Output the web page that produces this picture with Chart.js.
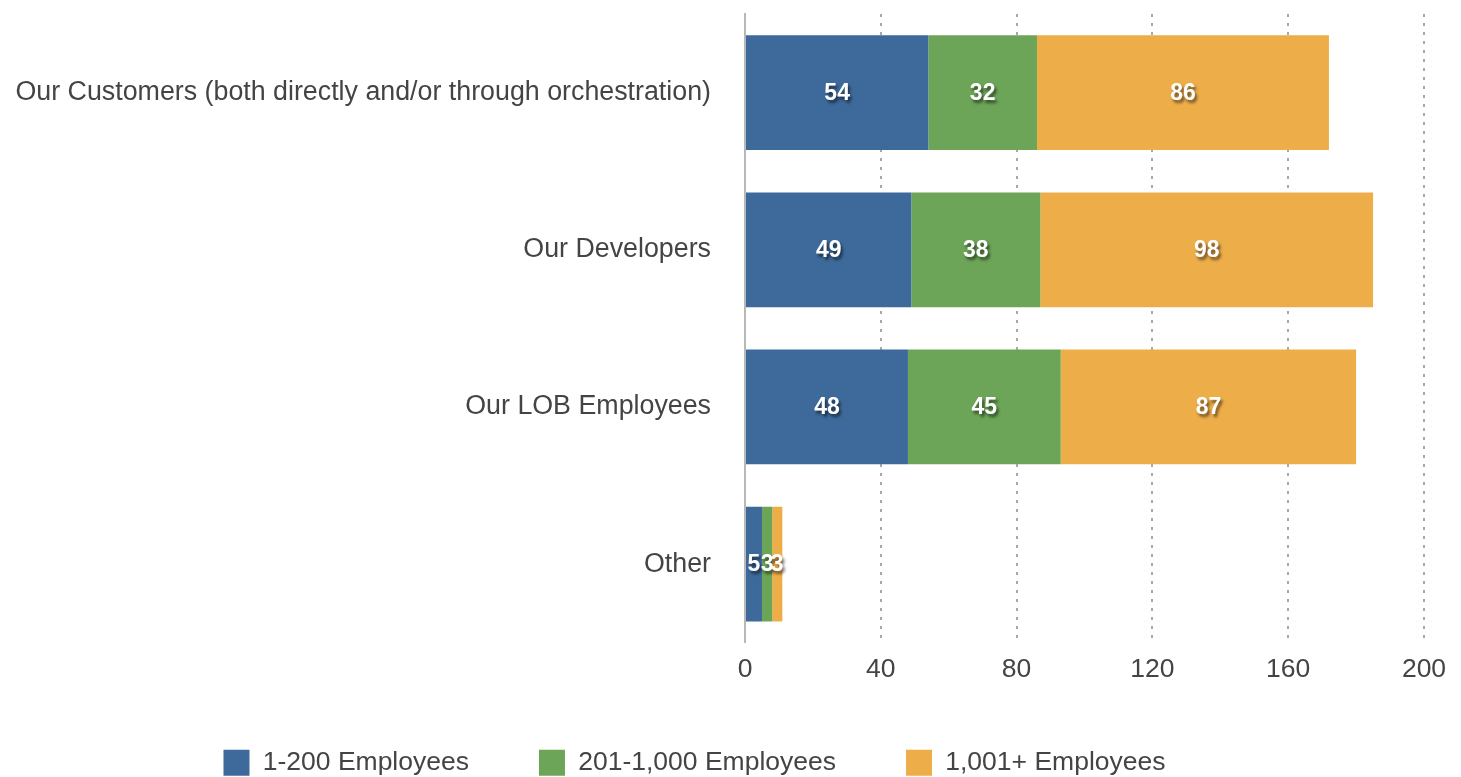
<!DOCTYPE html>
<html>
<head>
<meta charset="utf-8">
<title>Stacked bars by company size</title>
<script src="https://cdn.jsdelivr.net/npm/chart.js@4"></script>
<style>
    html, body { margin: 0; padding: 0; background: #ffffff; }
    #wrap { width: 1461px; height: 777px; position: relative; }
</style>
</head>
<body>
<div id="wrap"><canvas id="size-chart"></canvas></div>
<script>
// Categories and series
const categories = [
    'Our Customers (both directly and/or through orchestration)',
    'Our Developers',
    'Our LOB Employees',
    'Other'
];
const smallCompanies = [54, 49, 48, 5];
const midCompanies = [32, 38, 45, 3];
const largeCompanies = [86, 98, 87, 3];
const xTicks = [0, 40, 80, 120, 160, 200];

const FONT = '"Liberation Sans", Arial, Helvetica, sans-serif';
const TEXT_COLOR = '#444444';

/**
 * Value labels in the middle of each bar segment, white with a soft shadow
 */
const segmentLabels = {
    id: 'segmentLabels',
    afterDatasetsDraw(chart) {
        const ctx = chart.ctx;
        ctx.save();
        ctx.font = 'bold 23px ' + FONT;
        ctx.textAlign = 'center';
        ctx.textBaseline = 'middle';
        ctx.fillStyle = '#ffffff';
        ctx.shadowColor = 'rgba(0, 0, 0, 0.55)';
        ctx.shadowOffsetX = 2;
        ctx.shadowOffsetY = 3;
        ctx.shadowBlur = 3;
        chart.data.datasets.forEach((ds, i) => {
            const meta = chart.getDatasetMeta(i);
            meta.data.forEach((bar, j) => {
                const cx = (bar.x + bar.base) / 2;
                ctx.fillText(String(ds.data[j]), cx, bar.y + 1);
            });
        });
        ctx.restore();
    }
};

// Move the legend box: a bit left of centre and down towards the canvas edge
const legendOffset = {
    id: 'legendOffset',
    afterLayout(chart) {
        const lg = chart.legend;
        if (!lg) return;
        lg.left -= 22.5;
        lg.right -= 22.5;
        lg.top -= 17;
        lg.bottom -= 17;
    }
};

new Chart(document.getElementById('size-chart'), {
    type: 'bar',
    data: {
        labels: categories,
        datasets: [
            {
                label: '1-200 Employees',
                data: smallCompanies,
                backgroundColor: '#3d6a9b'
            },
            {
                label: '201-1,000 Employees',
                data: midCompanies,
                backgroundColor: '#6ca557'
            },
            {
                label: '1,001+ Employees',
                data: largeCompanies,
                backgroundColor: '#edae4a'
            }
        ]
    },
    options: {
        indexAxis: 'y',
        responsive: true,
        maintainAspectRatio: false,
        animation: false,
        categoryPercentage: 0.73,
        barPercentage: 1.0,
        layout: {
            padding: { top: 14, right: 37, left: 10, bottom: -26 }
        },
        plugins: {
            tooltip: { enabled: false },
            legend: {
                display: true,
                position: 'bottom',
                labels: {
                    color: TEXT_COLOR,
                    boxWidth: 26,
                    boxHeight: 26,
                    padding: 70,
                    font: { family: FONT, size: 26.5 }
                }
            }
        },
        scales: {
            x: {
                stacked: true,
                min: 0,
                max: 200,
                afterBuildTicks(scale) {
                    scale.ticks = xTicks.map(v => ({ value: v }));
                },
                grid: {
                    color: ctx => ctx.tick && ctx.tick.value === 0 ? 'rgba(0,0,0,0)' : '#a8a8a8',
                    lineWidth: 2,
                    drawTicks: false
                },
                border: { display: false, dash: [3, 6] },
                ticks: {
                    color: TEXT_COLOR,
                    padding: 11,
                    font: { family: FONT, size: 26.5 }
                }
            },
            y: {
                stacked: true,
                // fixed width for the long category names; the tick padding
                // should not push the plot down either
                afterFit(scale) {
                    scale.width = 735;
                    scale.paddingTop = 0;
                    scale.paddingBottom = 0;
                },
                grid: { display: false, drawTicks: false },
                border: { display: true, color: '#b8b8b8', width: 2 },
                ticks: {
                    color: TEXT_COLOR,
                    padding: 34,
                    font: { family: FONT, size: 26.8 }
                }
            }
        }
    },
    plugins: [segmentLabels, legendOffset]
});
</script>
</body>
</html>
